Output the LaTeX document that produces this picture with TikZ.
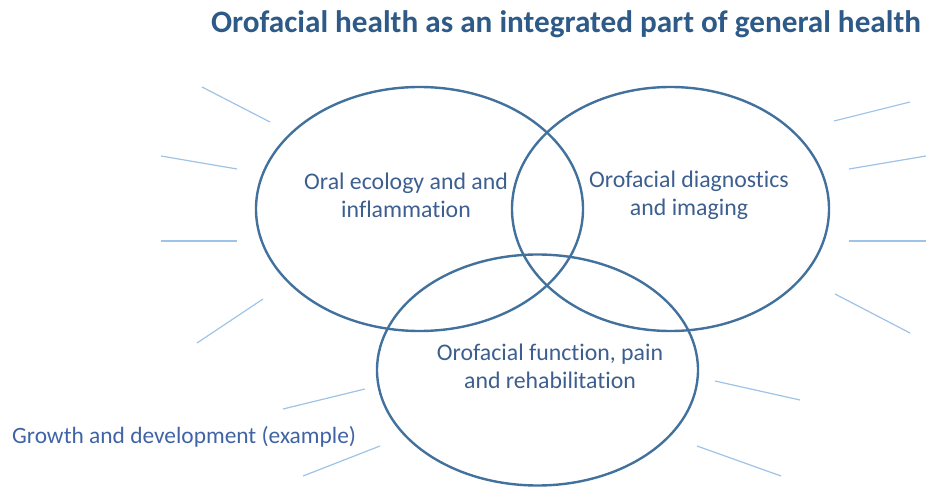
\documentclass[tikz,border=0pt]{standalone}
\usepackage{fontspec}
\setmainfont{Carlito}[Ligatures=NoCommon]
\usetikzlibrary{shapes.geometric}
\definecolor{ringblue}{HTML}{41719C}
\definecolor{rayblue}{HTML}{9DC3E6}
\definecolor{titleblue}{HTML}{2E5A88}
\definecolor{txtblue}{HTML}{3D5F8F}
\definecolor{lblblue}{HTML}{4063A6}
\tikzset{
  ring/.style={ellipse, draw=ringblue, line width=2.4pt, inner sep=0pt},
  ray/.style={draw=rayblue, line width=1.2pt},
  ringtext/.style={text=txtblue, align=center, font=\fontsize{23.8}{27.6}\selectfont, inner sep=0pt},
}
\begin{document}
\begin{tikzpicture}[x=1pt,y=-1pt]
\useasboundingbox (0,0) rectangle (926,489);
% rings
\node[ring, minimum width=327pt, minimum height=244pt] (e1) at (419.5,209) {};
\node[ring, minimum width=317pt, minimum height=244pt] (e2) at (670.5,209) {};
\node[ring, minimum width=321pt, minimum height=231pt] (e3) at (537.5,370) {};
% texts
\node[ringtext] (t1) at (406,195.5) {Oral ecology and and\\inflammation};
\node[ringtext] (t2) at (689,195.5) {Orofacial diagnostics\\and imaging};
\node[ringtext] (t3) at (550,366.5) {Orofacial function, pain\\and rehabilitation};
\node[text=titleblue, font=\fontsize{31.2}{34}\bfseries, inner sep=0pt] (title) at (566,24) {Orofacial health as an integrated part of general health};
\node[text=lblblue, font=\fontsize{23.4}{26}\selectfont, anchor=west, inner sep=0pt] (lbl) at (12,437) {Growth and development (example)};
% rays
\coordinate (l1a) at (202,87);   \coordinate (l1b) at (270,122);
\coordinate (l2a) at (161,156);  \coordinate (l2b) at (237,169);
\coordinate (l3a) at (161,241);  \coordinate (l3b) at (237,241);
\coordinate (l4a) at (197,343);  \coordinate (l4b) at (263,299);
\coordinate (l5a) at (283,409);  \coordinate (l5b) at (365,389);
\coordinate (l6a) at (303,476);  \coordinate (l6b) at (380,446);
\coordinate (r1a) at (834,121);  \coordinate (r1b) at (910,102);
\coordinate (r2a) at (849,169);  \coordinate (r2b) at (926,156);
\coordinate (r3a) at (849,241);  \coordinate (r3b) at (926,241);
\coordinate (r4a) at (835,294);  \coordinate (r4b) at (910,333);
\coordinate (r5a) at (715,381);  \coordinate (r5b) at (800,400);
\coordinate (r6a) at (697,446);  \coordinate (r6b) at (781,476);
\foreach \p in {l1,l2,l3,l4,l5,l6,r1,r2,r3,r4,r5,r6}
  \draw[ray] (\p a) -- (\p b);
\end{tikzpicture}
\end{document}
